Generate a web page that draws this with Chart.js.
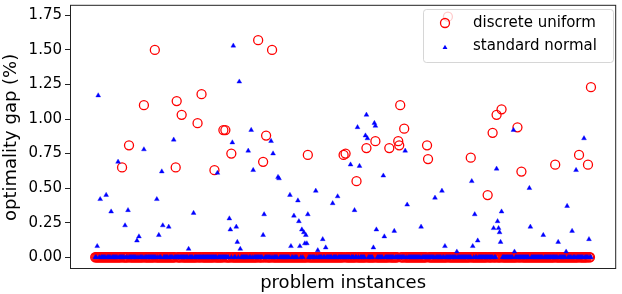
<!DOCTYPE html>
<html>
<head>
<meta charset="utf-8">
<script src="https://cdn.jsdelivr.net/npm/chart.js@4.4.1/dist/chart.umd.min.js"></script>
<style>
  html, body { margin: 0; padding: 0; background: #fff; }
  canvas { display: block; }
</style>
</head>
<body>
<canvas id="gap-chart" width="622" height="294"></canvas>
<script>
// instances 0..499; every instance not listed below sits at a gap of 0
const nInstances = 500;

// discrete uniform: instances with a non-zero gap
const uniformIdx = [27, 34, 49, 60, 81, 82, 87, 103, 107, 120, 129, 131, 137, 164, 169, 172, 178,
  214, 250, 252, 263, 273, 282, 296, 305, 306, 307, 311, 334, 335, 355, 378, 395, 400, 404, 409,
  425, 429, 463, 487, 496, 499];
const uniformGap = [0.65, 0.81, 1.10, 1.50, 0.65, 1.13, 1.03, 0.97, 1.18, 0.63, 0.92, 0.92, 0.75, 1.57, 0.69, 0.88, 1.50,
  0.74, 0.74, 0.75, 0.55, 0.79, 0.84, 0.79, 0.84, 0.81, 1.10, 0.93, 0.81, 0.71, 1.74, 0.72, 0.45, 0.90, 1.03, 1.07,
  0.94, 0.62, 0.67, 0.74, 0.67, 1.23];

// standard normal: instances with a non-zero gap
const normalIdx = [2, 3, 5, 11, 16, 23, 30, 33, 42, 44, 49, 62, 64, 67, 68, 74, 79, 94, 99, 123,
  135, 136, 138, 139, 142, 143, 145, 146, 154, 157, 159, 169, 170, 177, 179, 184, 185, 196, 197,
  200, 204, 205, 206, 208, 210, 211, 212, 213, 214, 222, 224, 229, 232, 239, 244, 257, 261, 264,
  266, 272, 273, 274, 280, 281, 282, 283, 290, 291, 301, 312, 314, 328, 342, 349, 352, 364, 379,
  380, 382, 385, 401, 404, 405, 406, 407, 408, 409, 421, 422, 437, 438, 451, 466, 474, 475, 480,
  484, 492, 497];
const normalGap = [0.08, 1.17, 0.42, 0.45, 0.33, 0.69, 0.23, 0.34, 0.12, 0.15, 0.78, 0.42, 0.16, 0.62, 0.23, 0.22, 0.85, 0.06, 0.32, 0.61,
  0.28, 0.20, 0.83, 1.53, 0.22, 0.11, 1.27, 0.06, 0.77, 0.92, 0.63, 0.16, 0.31, 0.84, 0.75, 0.58, 0.57, 0.45, 0.08,
  0.30, 0.41, 0.26, 0.08, 0.20, 0.18, 0.10, 0.16, 0.10, 0.31, 0.48, 0.05, 0.13, 0.07, 0.39, 0.44, 0.67, 0.34, 0.94,
  0.66, 0.88, 1.03, 0.86, 0.07, 0.97, 0.95, 0.20, 0.59, 0.15, 0.19, 0.77, 0.38, 0.22, 0.43, 0.48, 0.08, 0.04, 0.55,
  0.08, 0.31, 0.12, 0.21, 0.64, 0.26, 0.21, 0.18, 0.11, 0.33, 0.92, 0.04, 0.50, 0.22, 0.16, 0.11, 0.04, 0.37, 0.19,
  0.63, 0.86, 0.13];

const yTicks = [0, 0.25, 0.5, 0.75, 1.0, 1.25, 1.5, 1.75];
const seriesLabels = ["discrete uniform", "standard normal"];

const FONT = "'DejaVu Sans', 'Liberation Sans', sans-serif";

const toPoints = (idx, gap) => {
  const pts = [];
  for (let i = 0; i < nInstances; i++) {
    const k = idx.indexOf(i);
    pts.push({ x: i, y: k >= 0 ? gap[k] : 0 });
  }
  return pts;
};

// axes frame + matplotlib-style legend box inside the plot
const framePlugin = {
  id: "frame",
  afterDraw(chart) {
    const { ctx, chartArea: a } = chart;
    ctx.save();
    ctx.strokeStyle = "#222";
    ctx.lineWidth = 1;
    ctx.strokeRect(a.left + 0.5, a.top - 0.5, a.right - a.left - 1, a.bottom - a.top);

    // legend
    ctx.beginPath();
    ctx.roundRect(423.5, 9.5, 190, 53, 3);
    ctx.fillStyle = "rgba(255,255,255,0.8)";
    ctx.fill();
    ctx.strokeStyle = "rgba(204,204,204,0.8)";
    ctx.stroke();

    ctx.beginPath();
    ctx.arc(445, 23, 4.5, 0, Math.PI * 2);
    ctx.strokeStyle = "#ff0000";
    ctx.lineWidth = 1.3;
    ctx.stroke();

    const r = 2.8, cx = 445, cy = 47.5;
    ctx.beginPath();
    ctx.moveTo(cx, cy - r);
    ctx.lineTo(cx + r * 0.866, cy + r * 0.5);
    ctx.lineTo(cx - r * 0.866, cy + r * 0.5);
    ctx.closePath();
    ctx.fillStyle = "#0000ff";
    ctx.fill();

    ctx.fillStyle = "#000";
    ctx.font = "15px " + FONT;
    ctx.textBaseline = "middle";
    ctx.textAlign = "left";
    ctx.fillText(seriesLabels[0], 473, 23);
    ctx.fillText(seriesLabels[1], 473, 46);
    ctx.restore();
  },
};

new Chart(document.getElementById("gap-chart"), {
  type: "scatter",
  data: {
    datasets: [
      {
        label: seriesLabels[0],
        data: toPoints(uniformIdx, uniformGap),
        pointStyle: "circle",
        pointRadius: 4.5,
        borderWidth: 1.3,
        borderColor: "#ff0000",
        backgroundColor: "rgba(0,0,0,0)",
        order: 2,
      },
      {
        label: seriesLabels[1],
        data: toPoints(normalIdx, normalGap),
        pointStyle: "triangle",
        pointRadius: 2.8,
        borderWidth: 0.8,
        borderColor: "rgba(0,0,255,0.45)",
        backgroundColor: "#0000ff",
        order: 1,
      },
    ],
  },
  options: {
    responsive: false,
    animation: false,
    devicePixelRatio: 1,
    layout: { padding: { top: 1, right: 1, left: 0, bottom: 0 } },
    plugins: { legend: { display: false }, tooltip: { enabled: false } },
    scales: {
      x: {
        type: "linear",
        min: -25.4,
        max: 524.4,
        ticks: { display: false },
        grid: { display: false },
        border: { display: false },
        title: {
          display: true,
          text: "problem instances",
          color: "#000",
          font: { family: FONT, size: 18 },
          padding: { top: 0, bottom: 0 },
        },
        afterFit: (s) => { s.height = 25; s.paddingLeft = 0; s.paddingRight = 0; },
      },
      y: {
        min: -0.085,
        max: 1.819,
        afterBuildTicks: (s) => { s.ticks = yTicks.map((v) => ({ value: v })); },
        ticks: {
          callback: (v) => v.toFixed(2),
          color: "#000",
          font: { family: FONT, size: 15 },
          padding: 3,
        },
        grid: { drawOnChartArea: false, tickLength: 5, color: "#222" },
        border: { display: false },
        title: {
          display: true,
          text: "optimality gap (%)",
          color: "#000",
          font: { family: FONT, size: 18 },
          padding: { top: 1, bottom: 0 },
        },
        afterFit: (s) => { s.width = 70; s.paddingTop = 0; s.paddingBottom = 0; },
      },
    },
  },
  plugins: [framePlugin],
});
</script>
</body>
</html>
